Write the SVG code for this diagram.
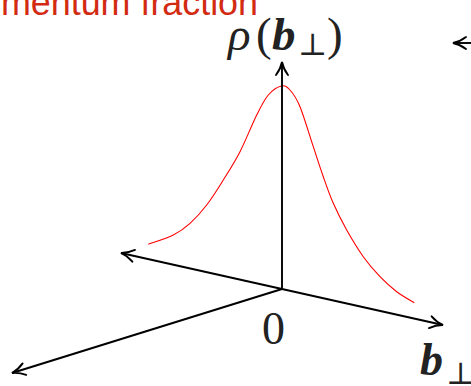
<svg xmlns="http://www.w3.org/2000/svg" width="471" height="386" viewBox="0 0 471 386">
  <style>
    .axis { fill: none; stroke: #000; stroke-width: 1.9; }
    .curve { fill: none; stroke: #ff0000; stroke-width: 1.1; }
    .math { font-family: "Liberation Serif", "DejaVu Serif", serif; fill: #222; }
    .perp { font-family: "DejaVu Serif", "Liberation Serif", serif; fill: #222; }
    .title { font-family: "Liberation Sans", Arial, sans-serif; fill: #d22b12; }
  </style>
  <defs>
    <marker id="arr" viewBox="-15 -8 17 16" refX="0" refY="0" markerWidth="17" markerHeight="16" orient="auto" markerUnits="userSpaceOnUse">
      <path d="M-13,-6 C-8,-2.2 -3.5,-0.7 0,0 C-3.5,0.7 -8,2.2 -13,6" fill="none" stroke="#000" stroke-width="1.9" stroke-linecap="round"/>
    </marker>
  </defs>
  <rect width="471" height="386" fill="#fff"/>

  <text class="title" x="1" y="15" font-size="36" textLength="257" lengthAdjust="spacingAndGlyphs">mentum fraction</text>

  <g id="curve">
    <path class="curve" d="M148.3,244.3 C152.47,242.75 166.35,238.5 173.3,235 C180.25,231.5 184.43,228.3 190,223.3 C195.57,218.3 201.15,212.22 206.7,205 C212.25,197.78 217.75,188.88 223.3,180 C228.85,171.12 234.43,162.53 240,151.7 C245.57,140.87 251.98,124.45 256.7,115 C261.42,105.55 264.17,99.83 268.3,95 C272.43,90.17 277.88,86.83 281.5,86 C285.12,85.17 286.92,86.55 290,90 C293.08,93.45 296.12,97.25 300,106.7 C303.88,116.15 309.42,135.03 313.3,146.7 C317.18,158.37 319.97,167.27 323.3,176.7 C326.63,186.13 329.4,194.42 333.3,203.3 C337.2,212.18 341.7,221.1 346.7,230 C351.7,238.9 357.75,248.92 363.3,256.7 C368.85,264.48 374.43,270.87 380,276.7 C385.57,282.53 390.98,287.37 396.7,291.7 C402.42,296.03 411.37,300.87 414.3,302.7"/>
  </g>

  <g id="connectors">
    <line class="axis" x1="282" y1="289" x2="282" y2="62" marker-end="url(#arr)"/>
    <line class="axis" x1="282" y1="289" x2="121" y2="253" marker-end="url(#arr)"/>
    <line class="axis" x1="282" y1="289" x2="443" y2="325" marker-end="url(#arr)"/>
    <line class="axis" x1="282" y1="289" x2="12" y2="373" marker-end="url(#arr)"/>
    <line class="axis" x1="480" y1="43" x2="453" y2="43" marker-end="url(#arr)"/>
  </g>

  <g id="label-rho">
    <text class="math" y="50" font-size="47"><tspan x="228" font-style="italic">ρ</tspan><tspan x="256">(</tspan><tspan x="272" font-style="italic" font-weight="bold">b</tspan><tspan class="perp" x="298" font-size="31" dy="5">⊥</tspan><tspan x="327" dy="-5">)</tspan></text>
  </g>
  <g id="label-zero">
    <text class="math" x="273.5" y="344" font-size="46" text-anchor="middle">0</text>
  </g>
  <g id="label-b">
    <text class="math" y="375" font-size="46"><tspan x="420" font-style="italic" font-weight="bold">b</tspan><tspan class="perp" x="446" font-size="31" dy="9">⊥</tspan></text>
  </g>
</svg>
